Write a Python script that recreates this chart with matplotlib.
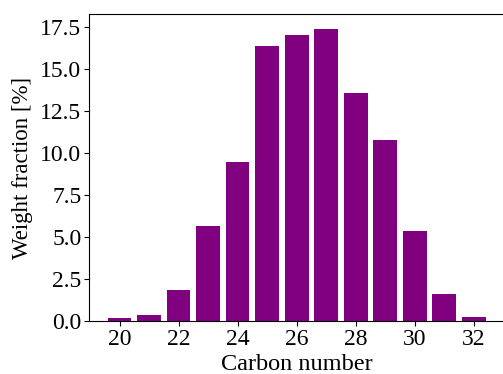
import matplotlib
matplotlib.use("Agg")
import matplotlib.pyplot as plt

carbon_numbers = [20, 21, 22, 23, 24, 25, 26, 27, 28, 29, 30, 31, 32]
weight_fraction = [0.16, 0.33, 1.82, 5.65, 9.45, 16.4, 17.06, 17.42, 13.62, 10.8, 5.35, 1.58, 0.21]

plt.rcParams['font.family'] = ['Liberation Serif', 'DejaVu Serif']

fig = plt.figure(figsize=(5.03, 3.74), dpi=100)
ax = fig.add_axes([89/503, 1-321/374, 415.4/503, (321-14)/374])
ax.bar(carbon_numbers, weight_fraction, color='purple')
ax.set_xlim(18.96, 33.04)
ax.set_xticks([20, 22, 24, 26, 28, 30, 32])
ax.set_yticks([0, 2.5, 5, 7.5, 10, 12.5, 15, 17.5])
ax.set_ylim(0, 18.3)
ax.set_yticklabels(['0.0', '2.5', '5.0', '7.5', '10.0', '12.5', '15.0', '17.5'])
ax.tick_params(labelsize=17, pad=2)
ax.set_xlabel('Carbon number', fontsize=17.5, labelpad=3)
ax.set_ylabel('Weight fraction [%]', fontsize=16.5, labelpad=5)
fig.savefig('out.png', dpi=100)
